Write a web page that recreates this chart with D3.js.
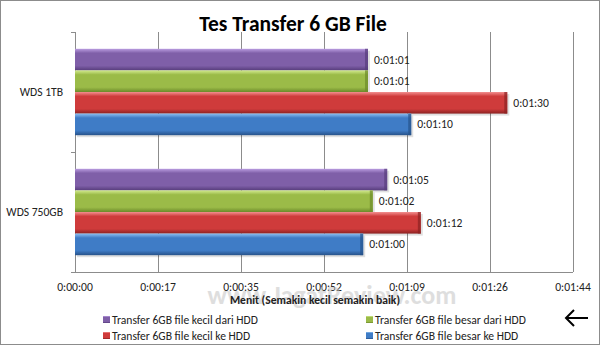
<!DOCTYPE html>
<html>
<head>
<meta charset="utf-8">
<script src="https://cdn.jsdelivr.net/npm/d3@7"></script>
<style>
  body { margin: 0; background: #fff; }
  svg { display: block; font-family: Carlito, Calibri, Lato, sans-serif; }
</style>
</head>
<body>
<svg width="600" height="345"></svg>
<script>
// data (seconds)
const categories = ["WDS 1TB", "WDS 750GB"];
const seriesNames = [
  "Transfer 6GB file kecil dari HDD",
  "Transfer 6GB file besar dari HDD",
  "Transfer 6GB file kecil ke HDD",
  "Transfer 6GB file besar ke HDD"
];
const kecilDari = [61, 65];
const besarDari = [61, 62];
const kecilKe = [90, 72];
const besarKe = [70, 60];
const tickDays = [0, 0.0002, 0.0004, 0.0006, 0.0008, 0.001, 0.0012];

const seriesValues = [kecilDari, besarDari, kecilKe, besarKe];
const colors = [
  { top: "#b99ce0", mid: "#7f5fa8", bot: "#573d7c" },
  { top: "#d2ea8e", mid: "#9bbb48", bot: "#6c8a2a" },
  { top: "#f39090", mid: "#cf3b3b", bot: "#8c2222" },
  { top: "#8cbef0", mid: "#3f7cc6", bot: "#27528a" }
];

const svg = d3.select("svg");
const margin = { left: 75, right: 27, top: 32, bottom: 73 };
const W = 600, H = 345;
const plotW = W - margin.left - margin.right;
const plotH = H - margin.top - margin.bottom;
const fs = "11.6px";

function fmt(sec) {
  const s = Math.round(sec);
  const h = Math.floor(s / 3600);
  const m = Math.floor((s % 3600) / 60);
  const ss = s % 60;
  return `${h}:${String(m).padStart(2, "0")}:${String(ss).padStart(2, "0")}`;
}

// border
svg.append("rect")
  .attr("x", 0.5).attr("y", 0.5)
  .attr("width", W - 1).attr("height", H - 1)
  .style("fill", "#fff").style("stroke", "#8c8c8c");

const defs = svg.append("defs");
colors.forEach((c, i) => {
  const gr = defs.append("linearGradient")
    .attr("id", "grad" + i)
    .attr("x1", 0).attr("x2", 0).attr("y1", 0).attr("y2", 1);
  gr.append("stop").attr("offset", "0%").attr("stop-color", c.top);
  gr.append("stop").attr("offset", "20%").attr("stop-color", c.mid);
  gr.append("stop").attr("offset", "78%").attr("stop-color", c.mid);
  gr.append("stop").attr("offset", "100%").attr("stop-color", c.bot);
});

// title
svg.append("text")
  .attr("x", 293).attr("y", 31)
  .attr("text-anchor", "middle")
  .style("font-size", "21.5px").style("font-weight", "bold")
  .style("fill", "#000")
  .text("Tes Transfer 6 GB File");

const maxSec = 0.0012 * 86400;
const x = d3.scaleLinear().domain([0, maxSec]).range([0, plotW]);
const y0 = d3.scaleBand().domain(categories).range([0, plotH]).paddingInner(0.28).paddingOuter(0.14);
const y1 = d3.scaleBand().domain(d3.range(4)).range([0, y0.bandwidth()]);

const g = svg.append("g").attr("transform", `translate(${margin.left},${margin.top})`);

// watermark
svg.append("text")
  .attr("x", 332).attr("y", 304)
  .attr("text-anchor", "middle")
  .style("font-size", "26px").style("font-weight", "bold")
  .style("fill", "#c4c4c4").style("opacity", 0.55)
  .text("www.JagatReview.com");

// grid lines
const tickSecs = tickDays.map((d) => d * 86400);
g.selectAll("line.grid")
  .data(tickSecs)
  .join("line")
  .attr("class", "grid")
  .attr("x1", (d) => Math.round(x(d)) + 0.5)
  .attr("x2", (d) => Math.round(x(d)) + 0.5)
  .attr("y1", 0).attr("y2", plotH)
  .style("stroke", "#8c8c8c");

// x axis line
g.append("line")
  .attr("x1", 0).attr("x2", plotW)
  .attr("y1", plotH + 0.5).attr("y2", plotH + 0.5)
  .style("stroke", "#8c8c8c");

// category axis ticks
g.selectAll("line.ctick")
  .data([0, plotH / 2, plotH])
  .join("line")
  .attr("class", "ctick")
  .attr("x1", -4).attr("x2", 0)
  .attr("y1", (d) => d + 0.5).attr("y2", (d) => d + 0.5)
  .style("stroke", "#8c8c8c");

// tick labels
g.selectAll("text.xt")
  .data(tickSecs)
  .join("text")
  .attr("class", "xt")
  .attr("x", (d) => x(d))
  .attr("y", plotH + 19)
  .attr("text-anchor", "middle")
  .style("font-size", fs).style("fill", "#222")
  .text((d) => fmt(d));

// category labels
g.selectAll("text.cat")
  .data(categories)
  .join("text")
  .attr("class", "cat")
  .attr("x", -12)
  .attr("y", (d) => y0(d) + y0.bandwidth() / 2 + 4)
  .attr("text-anchor", "end")
  .style("font-size", fs).style("fill", "#222")
  .text((d) => d);

// bars
const barData = [];
categories.forEach((c, ci) => {
  seriesValues.forEach((vals, si) => {
    barData.push({ cat: c, s: si, v: vals[ci] });
  });
});

const bars = g.selectAll("g.bar")
  .data(barData)
  .join("g")
  .attr("class", "bar")
  .attr("transform", (d) => `translate(0,${y0(d.cat) + y1(d.s)})`);

bars.append("rect")
  .attr("x", 2).attr("y", 2)
  .attr("width", (d) => x(d.v))
  .attr("height", y1.bandwidth())
  .style("fill", "#000").style("opacity", 0.12);

bars.append("rect")
  .attr("x", 0).attr("y", 0)
  .attr("width", (d) => x(d.v))
  .attr("height", y1.bandwidth())
  .style("fill", (d) => `url(#grad${d.s})`);

bars.append("rect")
  .attr("x", (d) => x(d.v) - 3).attr("y", 0)
  .attr("width", 3)
  .attr("height", y1.bandwidth())
  .style("fill", (d) => colors[d.s].bot).style("opacity", 0.7);

bars.append("text")
  .attr("x", (d) => x(d.v) + 6)
  .attr("y", y1.bandwidth() / 2 + 4)
  .style("font-size", fs).style("fill", "#222")
  .text((d) => fmt(d.v));

// axis title
svg.append("text")
  .attr("x", 315).attr("y", 304)
  .attr("text-anchor", "middle")
  .style("font-size", fs).style("font-weight", "bold").style("fill", "#222")
  .text("Menit (Semakin kecil semakin baik)");

// legend
const legendPos = [[103, 320], [366, 320], [103, 336], [366, 336]];
const legend = svg.selectAll("g.legend")
  .data(seriesNames)
  .join("g")
  .attr("class", "legend")
  .attr("transform", (d, i) => `translate(${legendPos[i][0]},${legendPos[i][1]})`);
legend.append("rect")
  .attr("x", 0).attr("y", -4)
  .attr("width", 7).attr("height", 7)
  .style("fill", (d, i) => `url(#grad${i})`);
legend.append("text")
  .attr("x", 9).attr("y", 4)
  .style("font-size", fs).style("fill", "#222")
  .text((d) => d);

// arrow
const arrow = svg.append("g").attr("transform", "translate(577,318)");
arrow.append("path")
  .attr("d", "M11,0 H-10 M-3,-8 L-11,0 L-3,8")
  .style("fill", "none").style("stroke", "#000").style("stroke-width", 2);
</script>
</body>
</html>
